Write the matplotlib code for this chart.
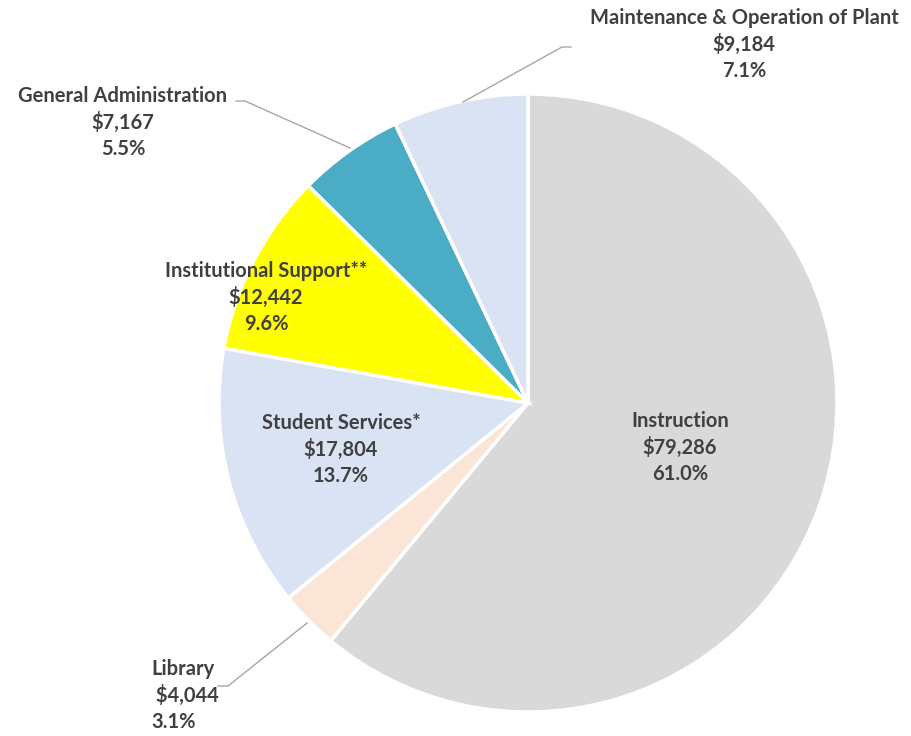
import matplotlib
matplotlib.use('Agg')
import matplotlib.pyplot as plt

# expense categories (thousands), clockwise from 12 o'clock
categories = ['Instruction', 'Library', 'Student Services*', 'Institutional Support**',
              'General Administration', 'Maintenance & Operation of Plant']
amounts = [79286, 4044, 17804, 12442, 7167, 9184]
colors = ['#D9D9D9', '#FBE5D6', '#DAE3F3', '#FFFF00', '#4BACC6', '#DAE3F3']

plt.rcParams['font.family'] = ['Lato', 'DejaVu Sans']
W, H = 911, 736
fig = plt.figure(figsize=(W / 100, H / 100), dpi=100)
ax = fig.add_axes([0, 0, 1, 1])

# pie drawn in pixel coords; y axis is flipped so go counterclockwise to look clockwise
cx, cy, r = 528, 403, 309
ax.pie(amounts, colors=colors, startangle=-90, counterclock=True,
       center=(cx, cy), radius=r, frame=True,
       wedgeprops=dict(edgecolor='white', linewidth=2.5))
ax.set_xlim(0, W)
ax.set_ylim(H, 0)
ax.set_aspect('equal')
ax.axis('off')

total = sum(amounts)
pct = ['%.1f%%' % (100.0 * a / total) for a in amounts]
money = ['${:,}'.format(a) for a in amounts]

txt = dict(color='#404040', fontsize=14.5, fontweight='bold', va='center')
# label anchor (x, y of first line, alignment)
pos = [(680, 421, 'center'), (151, 669, 'left'), (341, 423, 'center'),
       (266, 271, 'center'), (123, 96, 'center'), (744, 18, 'center')]
step = 26.5
for i, (x, y, ha) in enumerate(pos):
    ax.text(x, y, categories[i], ha=ha, **txt)
    m = money[i]
    if i == 1:
        m = ' ' + m
    ax.text(x, y + step, m, ha=ha, **txt)
    ax.text(x, y + 2 * step, pct[i], ha=ha, **txt)

# leader lines
lc = '#A6A6A6'
ax.plot([571, 562, 463], [47, 47, 102], color=lc, lw=1)
ax.plot([236, 245, 350], [101, 101, 148], color=lc, lw=1)
ax.plot([218, 228, 307], [686, 686, 623], color=lc, lw=1)

fig.savefig('out.png', dpi=100, facecolor='white')
